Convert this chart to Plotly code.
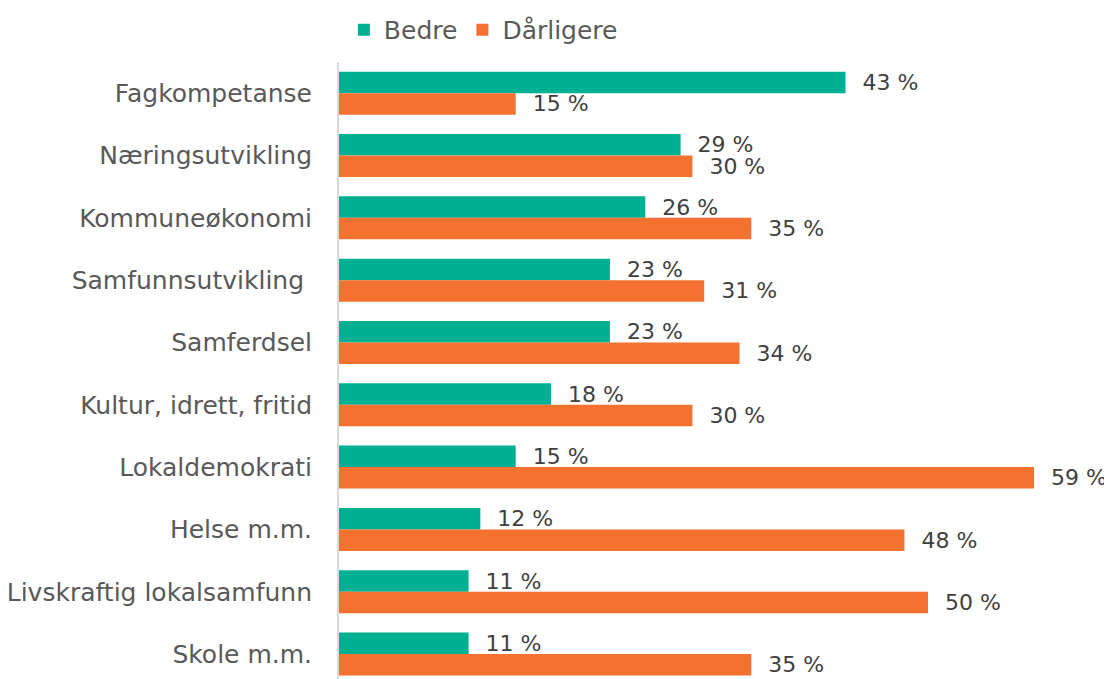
import plotly.graph_objects as go

categories = ["Fagkompetanse", "Næringsutvikling", "Kommuneøkonomi", "Samfunnsutvikling\u00a0",
              "Samferdsel", "Kultur, idrett, fritid", "Lokaldemokrati", "Helse m.m.",
              "Livskraftig lokalsamfunn", "Skole m.m."]
bedre = [43, 29, 26, 23, 23, 18, 15, 12, 11, 11]
darligere = [15, 30, 35, 31, 34, 30, 59, 48, 50, 35]

FONT = "DejaVu Sans"
TXT = "#595959"
VAL = "#404040"

fig = go.Figure()
fig.add_trace(go.Bar(
    name="Bedre", y=categories, x=bedre, orientation="h",
    marker=dict(color="#00B092", line=dict(width=0)),
    text=[f"\u00a0\u00a0{v} %" for v in bedre], textposition="outside",
    textfont=dict(size=22, color=VAL, family=FONT),
    cliponaxis=False, constraintext="none",
))
fig.add_trace(go.Bar(
    name="Dårligere", y=categories, x=darligere, orientation="h",
    marker=dict(color="#F47130", line=dict(width=0)),
    text=[f"\u00a0\u00a0{v} %" for v in darligere], textposition="outside",
    textfont=dict(size=22, color=VAL, family=FONT),
    cliponaxis=False, constraintext="none",
))

# page body has an 8px default margin; figure sized to fit the 1112x679 window
fig.update_layout(
    width=1104, height=671,
    barmode="group", bargap=0.31, bargroupgap=0,
    plot_bgcolor="white", paper_bgcolor="white",
    margin=dict(l=331, r=78, t=54, b=0, autoexpand=False),
    font=dict(family=FONT, color=TXT),
    legend=dict(orientation="h", x=0.007, xanchor="left", y=1.052, yanchor="middle",
                font=dict(size=25, color=TXT, family=FONT), traceorder="normal",
                itemwidth=30),
    xaxis=dict(range=[0, 59], visible=False),
    yaxis=dict(categoryorder="array", categoryarray=categories,
               range=[9.4, -0.5], showline=True, linecolor="#D9D9D9", linewidth=2,
               ticks="", ticklabelstandoff=20, showgrid=False,
               tickfont=dict(size=25, color=TXT, family=FONT)),
)

fig.write_html("out.html")
